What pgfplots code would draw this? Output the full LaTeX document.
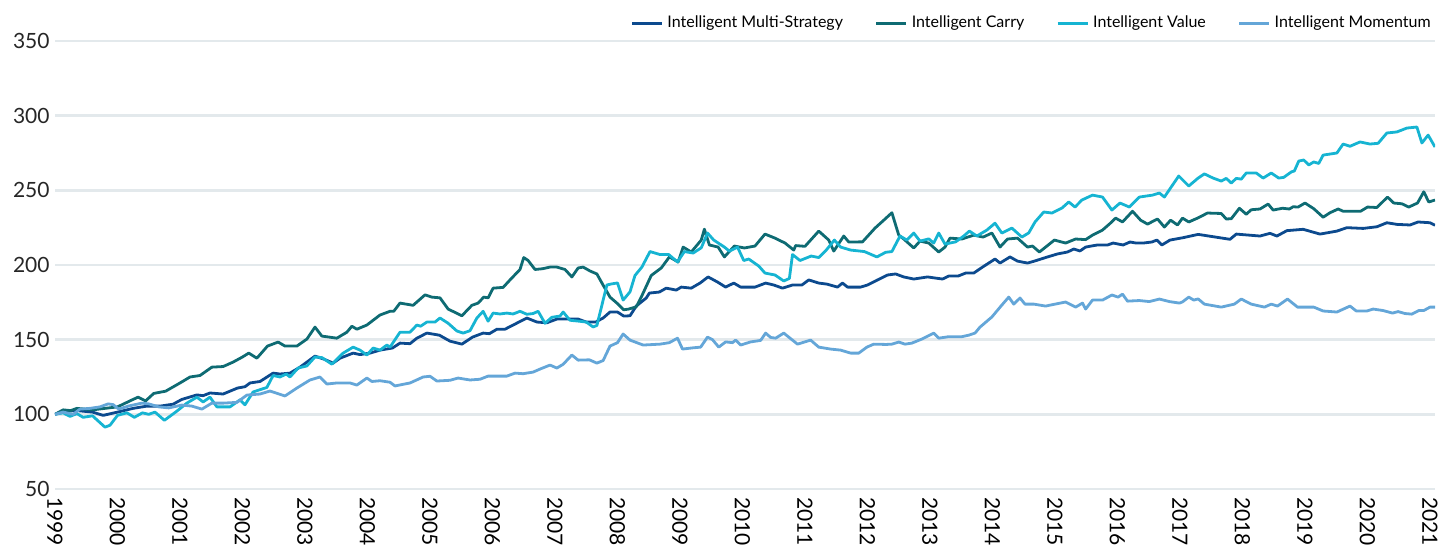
\documentclass[border=0pt]{standalone}
\usepackage{pgfplots}
\pgfplotsset{compat=1.18}
\usepackage{fontspec}
\setmainfont{Lato}
\definecolor{cms}{RGB}{12,74,142}
\definecolor{ccarry}{RGB}{14,107,115}
\definecolor{cvalue}{RGB}{22,180,210}
\definecolor{cmom}{RGB}{100,166,216}
\definecolor{gridc}{RGB}{227,233,236}
\begin{document}
\begin{tikzpicture}
\begin{axis}[
  scale only axis, width=690pt, height=224pt,
  xmin=1999, xmax=2021.08, ymin=50, ymax=350,
  axis line style={draw=none}, tick style={draw=none},
  ytick={50,100,...,350},
  ymajorgrids, xmajorgrids=false,
  major grid style={color=gridc, line width=1.4pt},
  xtick={1999,2000,...,2021},
  xticklabels={1999,2000,2001,2002,2003,2004,2005,2006,2007,2008,2009,2010,2011,2012,2013,2014,2015,2016,2017,2018,2019,2020,2021},
  xticklabel style={rotate=-90, anchor=west, inner sep=0pt, font=\fontsize{10.5}{12}\selectfont},
  yticklabel style={inner sep=0pt, xshift=-2.5pt, font=\fontsize{10.5}{12}\selectfont, text=black!85},
  /pgf/number format/assume math mode=true,
  xticklabel shift=4pt,
  legend columns=4,
  legend style={at={(rel axis cs:1,1)}, anchor=east, yshift=8.8pt, draw=none, fill=none, inner sep=0pt,
    font=\fontsize{8}{10}\selectfont,
    /tikz/every even column/.append style={column sep=14pt}},
  legend image code/.code={\draw[#1, line width=1.4pt] (0pt,0pt) -- (15pt,0pt);},
  every axis plot/.append style={line width=1.4pt, line join=round, mark=none},
]
\addplot[cms] coordinates {(1999.00,100)(1999.13,102)(1999.35,102.5)(1999.6,101.5)(1999.77,99.3)(2000.0,101.5)(2000.25,104)(2000.47,105.5)(2000.68,105.5)(2000.89,106.8)(2001.03,110)(2001.27,113)(2001.37,112.5)(2001.48,114.3)(2001.69,113.6)(2001.92,117.6)(2002.04,118.5)(2002.12,121)(2002.28,122)(2002.49,127.6)(2002.6,127)(2002.76,127.6)(2002.92,131.6)(2003.16,139)(2003.3,137)(2003.45,134.3)(2003.56,137.6)(2003.77,141)(2003.88,140)(2004.04,141)(2004.2,143)(2004.4,144.4)(2004.52,147.7)(2004.68,147.3)(2004.79,151)(2004.95,154.4)(2005.15,153)(2005.32,149)(2005.51,147)(2005.68,151.7)(2005.85,154.4)(2005.95,154)(2006.07,157)(2006.2,157)(2006.33,159.8)(2006.55,164.5)(2006.71,161.8)(2006.87,161.3)(2007.03,163.8)(2007.24,163.8)(2007.37,163.8)(2007.5,161.8)(2007.65,161.8)(2007.77,164.5)(2007.88,168.5)(2008.0,168.5)(2008.1,165.8)(2008.2,166)(2008.3,172.5)(2008.46,177.9)(2008.51,181.2)(2008.67,181.9)(2008.78,184.5)(2008.94,183.2)(2009.02,185.2)(2009.18,184.5)(2009.32,187.9)(2009.45,192)(2009.6,188.6)(2009.73,185.2)(2009.86,187.9)(2009.97,185.2)(2010.2,185.2)(2010.37,187.9)(2010.5,186.6)(2010.64,184.5)(2010.8,186.6)(2010.95,186.6)(2011.06,190)(2011.22,187.9)(2011.35,187.2)(2011.52,185.2)(2011.6,187.9)(2011.68,185.2)(2011.89,185.2)(2012.0,186.6)(2012.16,190)(2012.32,193.3)(2012.45,194)(2012.58,192)(2012.74,190.6)(2012.96,192)(2013.2,190.6)(2013.3,192.6)(2013.45,192.6)(2013.57,194.6)(2013.7,194.6)(2013.84,198.6)(2014.04,204)(2014.12,201.3)(2014.28,205.4)(2014.4,202.6)(2014.56,201.3)(2014.67,202.6)(2014.88,205.4)(2015.04,207.4)(2015.2,208.7)(2015.3,210.7)(2015.4,209.4)(2015.49,212)(2015.58,212.7)(2015.68,213.4)(2015.84,213.4)(2015.93,214.7)(2016.09,213.4)(2016.2,215.4)(2016.3,214.7)(2016.41,214.7)(2016.55,215.4)(2016.63,216.7)(2016.71,213.4)(2016.84,216.7)(2017.05,218.3)(2017.29,220.5)(2017.8,217.2)(2017.9,220.7)(2018.28,219.4)(2018.44,221.2)(2018.55,219.4)(2018.71,223)(2018.97,223.9)(2019.24,220.7)(2019.51,222.7)(2019.67,225)(2019.93,224.5)(2020.15,225.6)(2020.31,228.3)(2020.47,227.2)(2020.68,226.8)(2020.81,228.8)(2021.0,228.3)(2021.08,226.6)};
\addlegendentry{Intelligent Multi-Strategy}
\addplot[ccarry] coordinates {(1999,100)(1999.13,103)(1999.25,102.5)(1999.35,104)(1999.6,103)(1999.8,104)(2000.0,105)(2000.25,110)(2000.33,111.5)(2000.45,109)(2000.58,114)(2000.77,115.5)(2001.0,121)(2001.16,125)(2001.32,126)(2001.51,131.6)(2001.69,132)(2001.85,135)(2002.0,138.4)(2002.1,141)(2002.23,137.6)(2002.4,145.7)(2002.57,148.4)(2002.68,145.7)(2002.87,145.7)(2003.03,150.4)(2003.16,158.4)(2003.27,152.4)(2003.51,151)(2003.67,155)(2003.75,159)(2003.83,157)(2003.99,159.8)(2004.2,166.5)(2004.36,169)(2004.42,169)(2004.52,174.5)(2004.73,173)(2004.92,180)(2005.03,178.5)(2005.16,178)(2005.29,170.5)(2005.51,166)(2005.67,173)(2005.77,174.5)(2005.86,178.5)(2005.93,178)(2006.01,184.5)(2006.17,185)(2006.28,190)(2006.44,197)(2006.5,205)(2006.57,203)(2006.68,197)(2006.8,197.5)(2006.92,198.6)(2007.03,198.6)(2007.16,197)(2007.27,192)(2007.37,198)(2007.45,198.6)(2007.56,196)(2007.67,194)(2007.77,186.5)(2007.88,178.5)(2007.99,174.5)(2008.1,170)(2008.18,170.5)(2008.3,172)(2008.38,178.5)(2008.54,193)(2008.7,198)(2008.83,205.4)(2008.97,202)(2009.05,212)(2009.18,208.7)(2009.34,216.7)(2009.39,224)(2009.47,213.4)(2009.61,212)(2009.71,205.4)(2009.87,212.7)(2010.03,211.4)(2010.2,212.7)(2010.36,220.7)(2010.52,218)(2010.68,214.7)(2010.82,210)(2010.85,213)(2011.0,212.5)(2011.22,222.7)(2011.38,216.7)(2011.46,209.3)(2011.62,219.4)(2011.7,215.4)(2011.92,215.5)(2012.12,224.7)(2012.26,230)(2012.39,235)(2012.5,220)(2012.58,217.4)(2012.74,211.4)(2012.84,216)(2012.98,214.7)(2013.14,208.7)(2013.24,212)(2013.32,218)(2013.51,217.4)(2013.7,220)(2013.85,218.7)(2013.99,221.4)(2014.12,212)(2014.24,217.4)(2014.4,218)(2014.56,212)(2014.64,212.7)(2014.75,208.7)(2014.85,212)(2014.99,216.7)(2015.17,214.7)(2015.33,217.4)(2015.49,217)(2015.6,220)(2015.76,223.4)(2015.87,227.4)(2015.97,231.4)(2016.08,228.8)(2016.24,236)(2016.37,230)(2016.48,227.4)(2016.64,230.8)(2016.75,225.4)(2016.85,230)(2016.96,226.8)(2017.04,231.4)(2017.14,228.8)(2017.28,231.4)(2017.44,234.8)(2017.66,234.5)(2017.74,230.8)(2017.82,231)(2017.95,238)(2018.06,234)(2018.14,237)(2018.28,237.5)(2018.41,240.8)(2018.49,236.8)(2018.64,238)(2018.75,237.5)(2018.81,239)(2018.89,238.8)(2019.0,241.5)(2019.14,237.7)(2019.29,232)(2019.4,235)(2019.53,237.5)(2019.61,236)(2019.89,236)(2020.0,238.8)(2020.15,238.5)(2020.32,245.5)(2020.42,241.5)(2020.55,241)(2020.66,238.8)(2020.8,241.5)(2020.9,249)(2020.98,242.2)(2021.08,243.5)};
\addlegendentry{Intelligent Carry}
\addplot[cvalue] coordinates {(1999,100)(1999.13,101)(1999.24,98.6)(1999.35,100.5)(1999.45,98)(1999.6,99)(1999.8,91.4)(1999.88,92.7)(2000.0,99.3)(2000.15,101)(2000.27,98)(2000.4,101)(2000.5,100)(2000.6,101.5)(2000.75,96)(2000.93,101.5)(2001.11,107.5)(2001.27,111.5)(2001.37,108.3)(2001.48,111.5)(2001.59,105)(2001.8,105)(2001.96,109.7)(2002.04,106.4)(2002.17,115)(2002.39,118)(2002.49,126)(2002.6,125)(2002.7,127)(2002.76,125)(2002.89,131)(2003.03,132.4)(2003.16,138.4)(2003.27,138)(2003.43,133.6)(2003.61,141)(2003.77,145)(2003.88,143)(2003.99,139.7)(2004.09,144.4)(2004.2,143)(2004.31,146.4)(2004.36,145)(2004.52,155)(2004.68,155)(2004.79,159.8)(2004.85,159)(2004.95,161.8)(2005.08,161.8)(2005.16,164.5)(2005.29,161)(2005.43,155.8)(2005.53,154.4)(2005.64,156)(2005.75,164.5)(2005.85,169)(2005.93,162.4)(2006.01,167.8)(2006.12,167.2)(2006.23,167.8)(2006.33,167.2)(2006.44,169)(2006.55,167)(2006.65,167.5)(2006.73,169)(2006.84,161)(2006.95,165)(2007.08,165.8)(2007.13,168.5)(2007.24,163)(2007.4,162.3)(2007.5,161.8)(2007.61,158.5)(2007.67,159.5)(2007.83,186.6)(2007.9,187.3)(2008.0,188)(2008.09,176.5)(2008.2,182)(2008.28,193)(2008.39,198.6)(2008.52,209)(2008.68,207)(2008.82,207)(2008.96,202)(2009.07,209)(2009.21,208)(2009.34,211.5)(2009.44,221.4)(2009.54,216.7)(2009.71,212)(2009.79,209.3)(2009.92,212)(2010.02,203)(2010.1,204)(2010.26,199.3)(2010.36,194.6)(2010.52,193.3)(2010.66,189.3)(2010.75,191)(2010.8,207)(2010.92,203)(2011.1,206)(2011.22,205)(2011.34,210)(2011.47,216.7)(2011.57,212)(2011.73,210)(2011.95,209)(2012.15,205.4)(2012.29,208.5)(2012.39,209)(2012.52,219.4)(2012.63,216.7)(2012.74,221.4)(2012.84,216)(2012.98,217.5)(2013.06,214.7)(2013.14,221.4)(2013.24,214)(2013.41,215.5)(2013.54,219.4)(2013.63,222.7)(2013.75,219.4)(2013.91,223.4)(2014.04,228)(2014.15,221.4)(2014.31,224.7)(2014.47,218.7)(2014.58,221.5)(2014.68,228.8)(2014.82,235.5)(2014.95,234.8)(2015.11,238.1)(2015.22,242.2)(2015.32,238.8)(2015.43,243.5)(2015.6,246.8)(2015.76,245.5)(2015.91,236.8)(2016.04,241.5)(2016.19,238.8)(2016.35,245.5)(2016.56,246.8)(2016.67,248.2)(2016.75,245.5)(2016.88,253.5)(2016.98,259.6)(2017.14,252.9)(2017.29,258.2)(2017.39,261)(2017.53,258.2)(2017.66,256.2)(2017.74,258)(2017.82,254.9)(2017.9,258)(2017.98,257.5)(2018.06,261.6)(2018.22,261.6)(2018.33,258.2)(2018.46,261.6)(2018.58,258.2)(2018.66,258.7)(2018.78,262.3)(2018.83,263)(2018.9,269.6)(2018.98,270.3)(2019.06,267)(2019.14,269)(2019.22,268)(2019.29,273.6)(2019.51,275)(2019.61,281)(2019.72,279.5)(2019.88,282.4)(2020.04,281)(2020.17,281.5)(2020.31,288.4)(2020.47,289.1)(2020.63,291.7)(2020.79,292.4)(2020.87,281.7)(2020.97,287)(2021.08,279)};
\addlegendentry{Intelligent Value}
\addplot[cmom] coordinates {(1999,100)(1999.13,101.5)(1999.29,100)(1999.4,103.5)(1999.56,104)(1999.72,105)(1999.85,107)(1999.93,106.5)(2000.02,103.5)(2000.18,105.6)(2000.39,107.5)(2000.5,107)(2000.66,105)(2000.82,104.3)(2001.03,106.2)(2001.19,105.5)(2001.35,103.5)(2001.51,107.5)(2001.69,107.5)(2001.91,108)(2002.07,112.9)(2002.28,113.6)(2002.44,115.6)(2002.68,112.3)(2002.87,117.6)(2003.08,123)(2003.24,125)(2003.35,120.3)(2003.51,121)(2003.72,121)(2003.83,119.6)(2003.99,124.3)(2004.07,122)(2004.2,122.5)(2004.36,121.5)(2004.44,119)(2004.68,121)(2004.89,125)(2005.0,125.5)(2005.11,122.3)(2005.32,122.8)(2005.45,124.3)(2005.64,123)(2005.8,123.5)(2005.93,125.6)(2006.23,125.6)(2006.36,127.6)(2006.49,127.2)(2006.65,128.3)(2006.76,130.3)(2006.92,133)(2007.03,131)(2007.13,133.5)(2007.27,139.7)(2007.37,136.3)(2007.55,136.5)(2007.67,134.3)(2007.77,136)(2007.88,145.7)(2008.0,148)(2008.09,153.8)(2008.2,149.7)(2008.41,146.4)(2008.68,147)(2008.83,148)(2008.96,151)(2009.04,143.7)(2009.2,144.5)(2009.33,145)(2009.44,151.7)(2009.52,150)(2009.62,145)(2009.73,148.5)(2009.84,148)(2009.89,149.7)(2009.97,146.4)(2010.13,148.5)(2010.29,149.5)(2010.37,154.4)(2010.45,151.5)(2010.53,151)(2010.66,154.4)(2010.88,147)(2011.09,149.7)(2011.22,145)(2011.41,143.7)(2011.57,143)(2011.73,141)(2011.86,141)(2011.99,145)(2012.1,147)(2012.3,146.8)(2012.39,147)(2012.5,148.4)(2012.6,147)(2012.71,147.7)(2012.87,150.4)(2013.06,154.4)(2013.14,151)(2013.3,152)(2013.51,152)(2013.62,153)(2013.72,154.4)(2013.8,158.4)(2013.99,165.2)(2014.15,173.2)(2014.26,178.5)(2014.34,173.8)(2014.44,177.9)(2014.52,173.8)(2014.66,173.8)(2014.85,172.5)(2015.0,173.8)(2015.17,175.2)(2015.33,171.8)(2015.44,174.5)(2015.49,170.5)(2015.6,176.5)(2015.76,176.5)(2015.91,179.9)(2016.01,178.5)(2016.08,180.5)(2016.16,175.8)(2016.35,176.2)(2016.51,175.5)(2016.67,177.2)(2016.83,175.5)(2016.99,174.5)(2017.04,175.3)(2017.14,178.5)(2017.22,176.5)(2017.29,177.3)(2017.39,173.8)(2017.66,171.8)(2017.87,173.8)(2017.98,177.2)(2018.14,173.8)(2018.35,171.8)(2018.46,173.8)(2018.56,172.5)(2018.72,177.2)(2018.88,171.8)(2019.14,171.8)(2019.29,169.2)(2019.51,168.5)(2019.72,172.5)(2019.82,169.2)(2019.99,169.2)(2020.09,170.5)(2020.25,169.5)(2020.4,167.8)(2020.49,168.8)(2020.6,167.5)(2020.71,167.1)(2020.82,169.5)(2020.9,169.5)(2021.0,171.8)(2021.08,171.8)};
\addlegendentry{Intelligent Momentum}
\end{axis}
\path[use as bounding box] (-27.5pt,-28.5pt) rectangle (692.5pt,244.5pt);
\end{tikzpicture}
\end{document}
